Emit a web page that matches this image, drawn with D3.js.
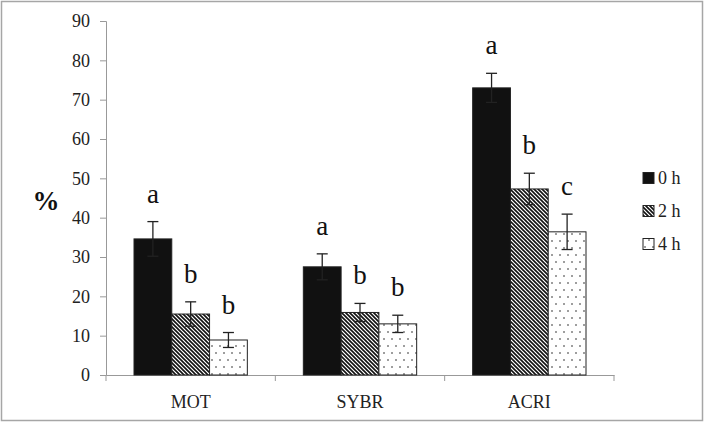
<!DOCTYPE html>
<html>
<head>
<meta charset="utf-8">
<script src="https://cdn.jsdelivr.net/npm/d3@7"></script>
<style>
  body { margin: 0; background: #fff; }
  svg { display: block; }
  svg text { font-family: "Liberation Serif", "Times New Roman", Times, "DejaVu Serif", serif; }
</style>
</head>
<body>
<div id="chart"></div>
<script>
  // DATA
  const categories = ["MOT", "SYBR", "ACRI"];
  const series = ["0 h", "2 h", "4 h"];
  const means = [
    [34.6, 15.5, 8.9],
    [27.5, 15.9, 13.0],
    [73.0, 47.3, 36.4],
  ];
  const errors = [
    [4.4, 3.1, 1.9],
    [3.3, 2.3, 2.2],
    [3.7, 4.0, 4.5],
  ];
  const letters = [
    ["a", "b", "b"],
    ["a", "b", "b"],
    ["a", "b", "c"],
  ];
  const yTicks = [0, 10, 20, 30, 40, 50, 60, 70, 80, 90];

  // CANVAS SETUP
  const width = 709,
    height = 429;
  const margin = { top: 21, right: 95, bottom: 54, left: 106 };
  const innerWidth = width - margin.left - margin.right,
    innerHeight = height - margin.top - margin.bottom;
  const serif = '"Liberation Serif", "Times New Roman", Times, "DejaVu Serif", serif';

  const svg = d3
    .select("#chart")
    .append("svg")
    .attr("width", width)
    .attr("height", height)
    .attr("font-family", serif);

  // patterns
  const defs = svg.append("defs");
  const hatch = defs
    .append("pattern")
    .attr("id", "hatch")
    .attr("patternUnits", "userSpaceOnUse")
    .attr("width", 4)
    .attr("height", 4);
  hatch.append("rect").attr("width", 4).attr("height", 4).attr("fill", "#fff");
  hatch
    .append("path")
    .attr("d", "M-1,-1 L5,5 M-1,3 L1,5 M3,-1 L5,1")
    .attr("stroke", "#111")
    .attr("stroke-width", 1.6);

  const dots = defs
    .append("pattern")
    .attr("id", "dots")
    .attr("patternUnits", "userSpaceOnUse")
    .attr("width", 8)
    .attr("height", 14);
  dots.append("rect").attr("width", 8).attr("height", 14).attr("fill", "#fff");
  dots.append("circle").attr("cx", 2).attr("cy", 3).attr("r", 0.8).attr("fill", "#222");
  dots.append("circle").attr("cx", 6).attr("cy", 10).attr("r", 0.8).attr("fill", "#222");

  const fills = ["#111", "url(#hatch)", "url(#dots)"];

  // frame
  svg
    .append("rect")
    .attr("x", 1.5)
    .attr("y", 1.5)
    .attr("width", 701)
    .attr("height", 419)
    .attr("fill", "#fff")
    .attr("stroke", "#a6a6a6")
    .attr("stroke-width", 1.5);

  const g = svg
    .append("g")
    .attr("transform", `translate(${margin.left},${margin.top})`);

  const xScale = d3
    .scaleBand()
    .domain(categories)
    .range([0, innerWidth])
    .padding(0);

  const xSub = d3
    .scaleBand()
    .domain(series)
    .range([28, xScale.bandwidth() - 28])
    .padding(0);

  const yScale = d3.scaleLinear().domain([0, 90]).range([innerHeight, 0]);

  // y axis
  const yAxis = g
    .append("g")
    .call(d3.axisLeft(yScale).tickValues(yTicks).tickSize(6).tickPadding(10))
    .attr("font-family", serif)
    .attr("font-size", 18);
  yAxis.select(".domain").attr("stroke", "#999");
  yAxis.selectAll(".tick line").attr("stroke", "#999");
  yAxis.selectAll(".tick text").attr("fill", "#222");

  // x axis
  const xAxis = g
    .append("g")
    .attr("transform", `translate(0,${innerHeight})`)
    .call(d3.axisBottom(xScale).tickSize(0).tickPadding(20))
    .attr("font-family", serif)
    .attr("font-size", 18);
  xAxis.select(".domain").attr("stroke", "#999");
  xAxis.selectAll(".tick text").attr("fill", "#222");
  // category separator ticks
  xAxis
    .selectAll(".sep")
    .data(d3.range(categories.length + 1))
    .join("line")
    .attr("class", "sep")
    .attr("x1", (i) => i * xScale.step())
    .attr("x2", (i) => i * xScale.step())
    .attr("y1", 0)
    .attr("y2", 6)
    .attr("stroke", "#999");

  // bars
  const rows = [];
  categories.forEach((c, ci) =>
    series.forEach((s, si) =>
      rows.push({
        cat: c,
        ser: s,
        si: si,
        v: means[ci][si],
        e: errors[ci][si],
        l: letters[ci][si],
      })
    )
  );

  const barX = (d) => xScale(d.cat) + xSub(d.ser);
  const cx = (d) => barX(d) + xSub.bandwidth() / 2;

  g.selectAll("rect.bar")
    .data(rows)
    .join("rect")
    .attr("class", "bar")
    .attr("x", barX)
    .attr("y", (d) => yScale(d.v))
    .attr("width", xSub.bandwidth())
    .attr("height", (d) => yScale(0) - yScale(d.v))
    .attr("fill", (d) => fills[d.si])
    .attr("stroke", "#222")
    .attr("stroke-width", 1);

  // error bars
  const eb = g.selectAll("g.err").data(rows).join("g").attr("class", "err")
    .attr("stroke", "#222")
    .attr("stroke-width", 1.3);
  eb.append("line")
    .attr("x1", cx)
    .attr("x2", cx)
    .attr("y1", (d) => yScale(d.v + d.e))
    .attr("y2", (d) => yScale(d.v - d.e));
  eb.append("line")
    .attr("x1", (d) => cx(d) - 5.5)
    .attr("x2", (d) => cx(d) + 5.5)
    .attr("y1", (d) => yScale(d.v + d.e))
    .attr("y2", (d) => yScale(d.v + d.e));
  eb.append("line")
    .attr("x1", (d) => cx(d) - 5.5)
    .attr("x2", (d) => cx(d) + 5.5)
    .attr("y1", (d) => yScale(d.v - d.e))
    .attr("y2", (d) => yScale(d.v - d.e));

  // significance letters
  g.selectAll("text.sig")
    .data(rows)
    .join("text")
    .attr("class", "sig")
    .attr("x", cx)
    .attr("y", (d) => yScale(d.v + d.e) - 19)
    .attr("text-anchor", "middle")
    .attr("fill", "#111")
    .attr("font-size", 27)
    .text((d) => d.l);

  // y title
  svg
    .append("text")
    .attr("x", 46)
    .attr("y", 210)
    .attr("text-anchor", "middle")
    .attr("fill", "#111")
    .attr("font-size", 27)
    .attr("font-weight", "bold")
    .text("%");

  // legend
  const legend = svg
    .selectAll("g.leg")
    .data(series)
    .join("g")
    .attr("class", "leg")
    .attr("transform", (d, i) => `translate(643,${178 + i * 33})`);
  legend
    .append("rect")
    .attr("x", 0)
    .attr("y", -5.5)
    .attr("width", 11)
    .attr("height", 11)
    .attr("fill", (d, i) => fills[i])
    .attr("stroke", "#222")
    .attr("stroke-width", 1);
  legend
    .append("text")
    .attr("x", 15)
    .attr("y", 6)
    .attr("fill", "#222")
    .attr("font-size", 18)
    .text((d) => d);
</script>
</body>
</html>
